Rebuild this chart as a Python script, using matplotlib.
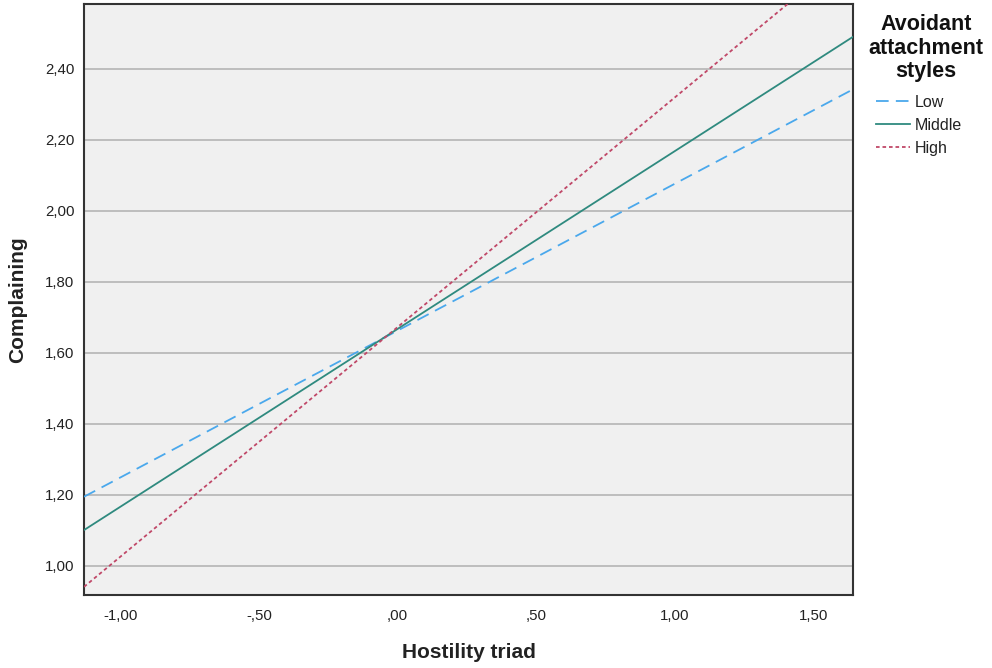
import matplotlib
matplotlib.use("Agg")
import matplotlib.pyplot as plt
import numpy as np

plt.rcParams['font.family'] = ['Liberation Sans', 'DejaVu Sans']

# Data (regression lines: endpoints at x range)
x_range = [-1.13, 1.64]
series_names = ["Low", "Middle", "High"]
low_y = [1.194, 2.342]
middle_y = [1.100, 2.490]
high_y = [0.940, 2.735]
x_ticks = [-1.00, -0.50, 0.00, 0.50, 1.00, 1.50]
x_tick_labels = ["-1,00", "-,50", ",00", ",50", "1,00", "1,50"]
y_ticks = [1.00, 1.20, 1.40, 1.60, 1.80, 2.00, 2.20, 2.40]
y_tick_labels = ["1,00", "1,20", "1,40", "1,60", "1,80", "2,00", "2,20", "2,40"]

fig = plt.figure(figsize=(9.92, 6.68), dpi=100)
ax = fig.add_axes([84/992, 1 - 595/668, (853-84)/992, (595-4)/668])
ax.set_facecolor("#f0f0f0")

for yt in y_ticks:
    ax.axhline(yt, color="#bdbdbd", lw=1.4, zorder=1)

l1, = ax.plot(x_range, low_y, color="#4aa8ec", lw=1.3, dashes=(7, 4), zorder=3)
l2, = ax.plot(x_range, middle_y, color="#2f8a7f", lw=1.3, zorder=3)
l3, = ax.plot(x_range, high_y, color="#c04868", lw=1.3, dashes=(2, 1.6), zorder=3)

ax.set_xlim(-1.13, 1.641)
ax.set_ylim(0.917, 2.583)
ax.set_xticks(x_ticks)
ax.set_xticklabels(x_tick_labels)
ax.set_yticks(y_ticks)
ax.set_yticklabels(y_tick_labels)
ax.tick_params(length=0, labelsize=10.8, colors="#222222", pad=7)
ax.tick_params(axis='x', pad=10)
for s in ax.spines.values():
    s.set_color("#333333")
    s.set_linewidth(1.5)

fig.text(469/992, 1 - 652/668, "Hostility triad", ha="center", va="center",
         fontsize=15, fontweight="bold", color="#222222")
fig.text(18/992, 1 - 300/668, "Complaining", ha="center", va="center",
         rotation=90, fontsize=15, fontweight="bold", color="#222222")

fig.text(926/992, 1 - 48/668, "Avoidant\nattachment\nstyles", ha="center", va="center",
         multialignment="center", fontsize=15.5, fontweight="bold", color="#111111",
         linespacing=1.13)

leg = fig.legend([l1, l2, l3], series_names, loc="upper left",
                 bbox_to_anchor=(876/992, 1 - 95/668), frameon=False,
                 fontsize=11.5, handlelength=2.1, handletextpad=0.35,
                 labelspacing=0.5, borderaxespad=0, borderpad=0)
for t in leg.get_texts():
    t.set_color("#222222")

fig.savefig("out.png", dpi=100)
